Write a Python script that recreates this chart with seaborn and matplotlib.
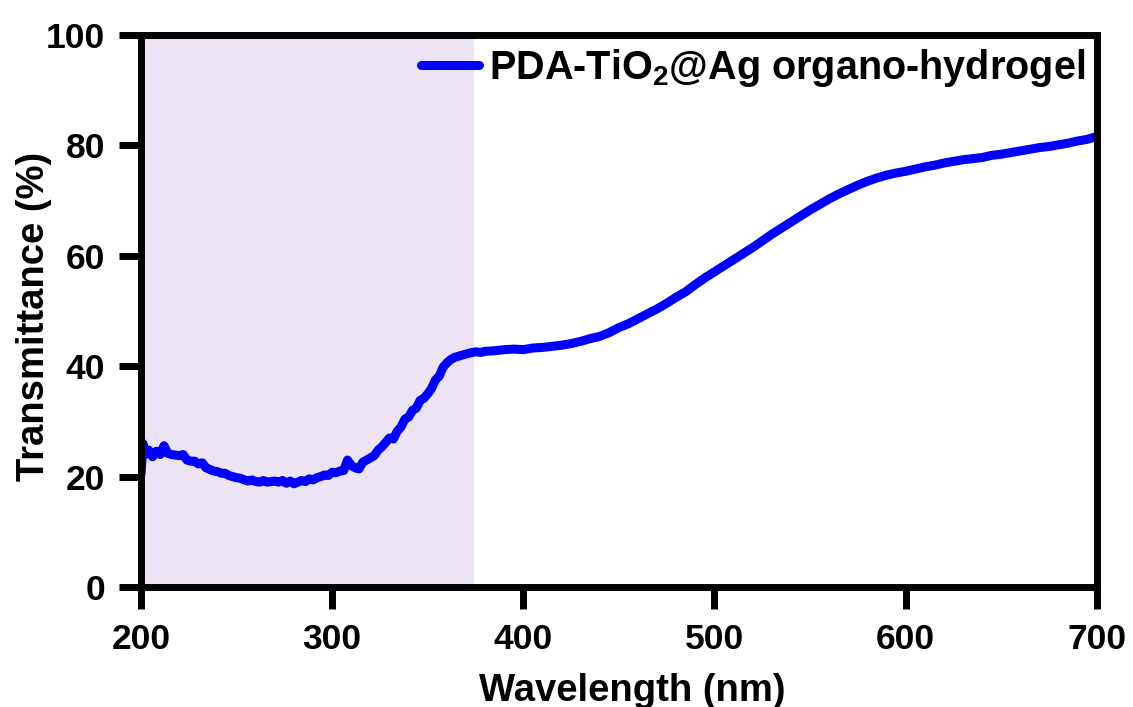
import matplotlib
matplotlib.use("Agg")
import matplotlib.pyplot as plt
import seaborn as sns
import pandas as pd

# UV-Vis transmittance spectrum
wavelength = [200, 201, 202, 204, 206, 208, 210, 212, 214, 216, 218, 220, 222, 224, 226, 228,
              230, 232, 234, 236, 238, 240, 242, 244, 246, 248, 250, 252, 254, 256, 258, 260,
              262, 264, 266, 268, 270, 272, 274, 276, 278, 280, 282, 284, 286, 288, 290, 292,
              294, 296, 298, 300, 302, 304, 306, 308, 310, 312, 314, 316, 318, 320, 322, 324,
              326, 328, 330, 332, 334, 336, 338, 340, 342, 344, 346, 348, 350, 352, 354, 356,
              358, 360, 362, 364, 366, 368, 370, 372, 375, 378, 380, 385, 390, 395, 400, 405,
              410, 415, 420, 425, 430, 435, 440, 445, 450, 455, 460, 465, 470, 475, 480, 485,
              490, 495, 500, 505, 510, 515, 520, 525, 530, 535, 540, 545, 550, 555, 560, 565,
              570, 575, 580, 585, 590, 595, 600, 605, 610, 615, 620, 625, 630, 635, 640, 645,
              650, 655, 660, 665, 670, 675, 680, 685, 690, 695, 700]
transmittance = [20.5, 26.0, 24.0, 24.8, 23.6, 24.6, 24.0, 25.6, 24.2, 24.0, 23.9, 23.8, 24.0, 23.0, 22.8, 22.8,
                 22.3, 22.5, 21.6, 21.3, 21.0, 20.9, 20.6, 20.6, 20.2, 20.0, 19.8, 19.7, 19.4, 19.2, 19.4, 19.1,
                 19.0, 19.3, 19.0, 19.1, 19.2, 19.0, 19.3, 18.8, 19.2, 18.7, 19.0, 19.3, 19.1, 19.6, 19.4, 19.8,
                 20.0, 20.3, 20.2, 20.8, 20.7, 21.0, 21.1, 23.0, 22.0, 21.6, 21.4, 22.6, 23.0, 23.4, 23.8, 24.8,
                 25.4, 26.2, 27.0, 26.8, 28.2, 29.0, 30.4, 30.8, 32.0, 32.4, 33.8, 34.2, 35.0, 36.0, 37.5, 38.2,
                 39.8, 40.6, 41.2, 41.6, 41.8, 42.0, 42.2, 42.4, 42.6, 42.5, 42.7, 42.8, 43.0, 43.1, 43.0, 43.3,
                 43.4, 43.6, 43.8, 44.1, 44.5, 45.0, 45.4, 46.1, 47.0, 47.7, 48.6, 49.5, 50.4, 51.4, 52.5, 53.5,
                 54.8, 56.0, 57.1, 58.2, 59.3, 60.4, 61.5, 62.7, 63.9, 65.0, 66.1, 67.2, 68.3, 69.3, 70.3, 71.2,
                 72.0, 72.8, 73.5, 74.1, 74.6, 75.0, 75.3, 75.7, 76.1, 76.4, 76.8, 77.1, 77.4, 77.6, 77.8, 78.2,
                 78.4, 78.7, 79.0, 79.3, 79.6, 79.8, 80.1, 80.4, 80.8, 81.1, 81.6]
uv_band = [200, 374]
series_label = r"PDA-TiO$_\mathbf{2}$@Ag organo-hydrogel"
x_ticks = [200, 300, 400, 500, 600, 700]
y_ticks = [0, 20, 40, 60, 80, 100]

sns.set_theme(style="ticks")
plt.rcParams["font.family"] = ["Liberation Sans", "DejaVu Sans"]
plt.rcParams["font.weight"] = "bold"
plt.rcParams["mathtext.fontset"] = "custom"
plt.rcParams["mathtext.rm"] = "Liberation Sans:bold"
plt.rcParams["mathtext.bf"] = "Liberation Sans:bold"
for key in ["text.color", "axes.labelcolor", "xtick.color", "ytick.color"]:
    plt.rcParams[key] = "black"

df = pd.DataFrame({"Wavelength": wavelength, "Transmittance": transmittance})

fig = plt.figure(figsize=(11.33, 7.07), dpi=100)
ax = fig.add_axes([0.1245, 0.1697, 0.8435, 0.7808])

ax.axvspan(uv_band[0], uv_band[1], color="#ECE4F5", zorder=0, lw=0)
sns.lineplot(data=df, x="Wavelength", y="Transmittance", ax=ax, color="#0000FF",
             lw=6.5, label=series_label, solid_capstyle="round", solid_joinstyle="round")

ax.set_xlim(200, 700)
ax.set_ylim(0, 100)
ax.set_xticks(x_ticks)
ax.set_yticks(y_ticks)
ax.set_xlabel("Wavelength (nm)", fontsize=27.5, fontweight="bold", va="top")
ax.set_ylabel("Transmittance (%)", fontsize=27.5, fontweight="bold")
ax.xaxis.set_label_coords(0.514, -0.155)
ax.yaxis.set_label_coords(-0.093, 0.49)
ax.tick_params(axis="both", direction="out", length=16, width=5, labelsize=25.5, pad=10,
               color="black")
for lab in ax.get_xticklabels() + ax.get_yticklabels():
    lab.set_fontweight("bold")
for sp in ax.spines.values():
    sp.set_linewidth(5)
    sp.set_color("black")
    sp.set_visible(True)

leg = ax.legend(loc="upper right", frameon=False, fontsize=28.5, handlelength=1.45,
                handletextpad=0.25, borderaxespad=0.0, borderpad=0.3)
for t in leg.get_texts():
    t.set_fontweight("bold")

fig.savefig("out.png", dpi=100)
